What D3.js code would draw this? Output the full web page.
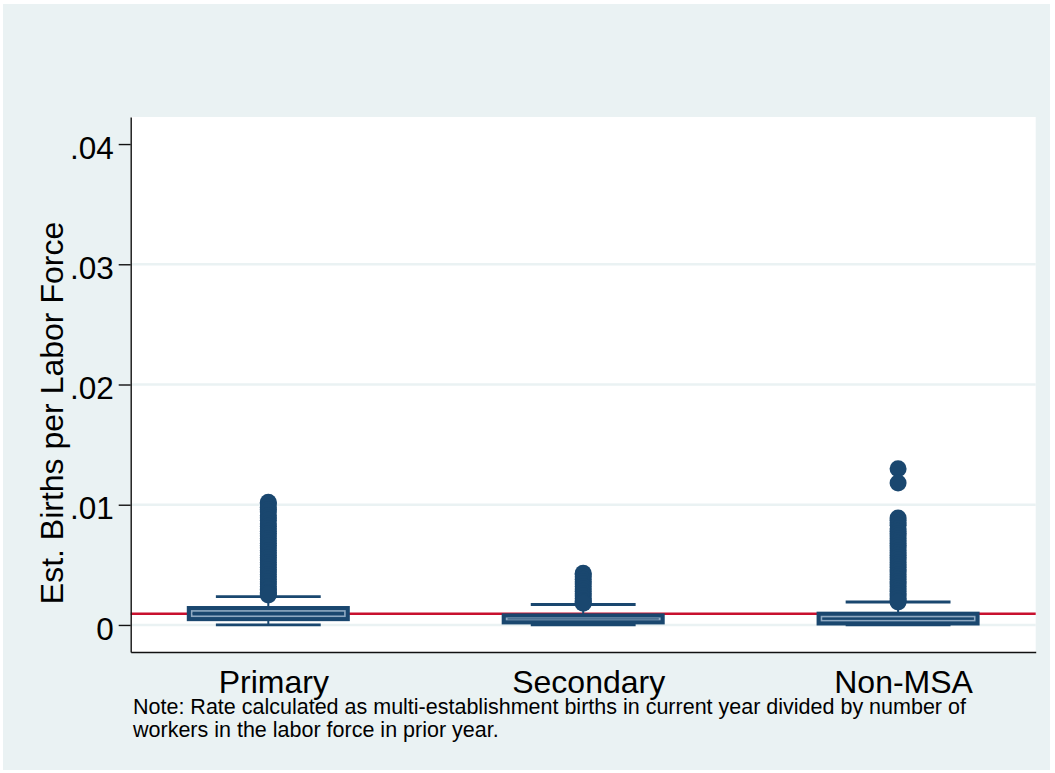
<!DOCTYPE html>
<html>
<head>
<meta charset="utf-8">
<script src="https://cdn.jsdelivr.net/npm/d3@7"></script>
<style>
  html, body { margin: 0; padding: 0; background: #ffffff; }
  svg { display: block; font-family: "Liberation Sans", Arial, Helvetica, sans-serif; }
</style>
</head>
<body>
<svg id="chart" width="1055" height="773"></svg>
<script>
// Area types and box-plot summary statistics (births per labor force)
const categories = ["Primary", "Secondary", "Non-MSA"];
const whiskerLow  = [0.00000, 0.00000, 0.00000];
const quartile1   = [0.00039, 0.00012, 0.00003];
const medians     = [0.00095, 0.00050, 0.00050];
const quartile3   = [0.00150, 0.00089, 0.00103];
const whiskerHigh = [0.00236, 0.00170, 0.00191];

// Outside values for each area type
const outliersPrimary = [0.0102, 0.0101, 0.0098, 0.0096, 0.0094, 0.0091, 0.0089, 0.0087,
  0.0084, 0.0082, 0.0080, 0.0078, 0.0076, 0.0074, 0.0072, 0.0070, 0.0068, 0.0066, 0.0064,
  0.0062, 0.0060, 0.0058, 0.0056, 0.0054, 0.0052, 0.0050, 0.0048, 0.0046, 0.0044, 0.0042,
  0.0040, 0.0038, 0.0036, 0.0034, 0.0032, 0.0030, 0.0029, 0.0027, 0.0026, 0.0025];
const outliersSecondary = [0.0043, 0.0042, 0.0040, 0.0038, 0.0036, 0.0034, 0.0032, 0.0030,
  0.0028, 0.0026, 0.0024, 0.0022, 0.0020, 0.0019, 0.0018];
const outliersNonMSA = [0.0130, 0.0118, 0.0089, 0.0087, 0.0085, 0.0083, 0.0080, 0.0078,
  0.0076, 0.0074, 0.0072, 0.0070, 0.0068, 0.0066, 0.0064, 0.0062, 0.0060, 0.0058, 0.0056,
  0.0054, 0.0052, 0.0050, 0.0048, 0.0046, 0.0044, 0.0042, 0.0040, 0.0038, 0.0036, 0.0034,
  0.0032, 0.0030, 0.0028, 0.0026, 0.0024, 0.0022, 0.0020, 0.0019];
const outliers = [outliersPrimary, outliersSecondary, outliersNonMSA];

// Overall reference rate
const referenceRate = 0.00093;

const yTicks = [0, 0.01, 0.02, 0.03, 0.04];
const gridTicks = [0, 0.01, 0.02, 0.03];
const yDomain = [-0.00225, 0.04225];

const yTitle = "Est. Births per Labor Force";
const noteLines = [
  "Note: Rate calculated as multi-establishment births in current year divided by number of",
  "workers in the labor force in prior year."
];

// Layout
const W = 1055, H = 773;
const plot = { left: 130.7, right: 1035.7, top: 117, bottom: 652 };
const navy = "#1a476f";
const boxLight = "#8fa9c2";
const bluishGray = "#eaf2f3";
const red = "#c8102e";

const svg = d3.select("#chart");

// Graph region
svg.append("rect").attr("x", 3).attr("y", 4).attr("width", 1047).attr("height", 766)
  .attr("fill", bluishGray);
// Plot region
svg.append("rect").attr("x", plot.left).attr("y", plot.top)
  .attr("width", plot.right - plot.left).attr("height", plot.bottom - plot.top)
  .attr("fill", "#ffffff");

const x = d3.scalePoint().domain(categories).range([plot.left, plot.right]).padding(0.437);
const y = d3.scaleLinear().domain(yDomain).range([plot.bottom, plot.top]);
const step = x.step();
const boxW = step * 0.512;
const capW = step * 0.333;

// Horizontal grid lines
svg.append("g").selectAll("line").data(gridTicks).join("line")
  .attr("x1", plot.left).attr("x2", plot.right)
  .attr("y1", d => y(d)).attr("y2", d => y(d))
  .attr("stroke", bluishGray).attr("stroke-width", 2.5);

// Reference line
svg.append("line")
  .attr("x1", plot.left).attr("x2", plot.right)
  .attr("y1", y(referenceRate)).attr("y2", y(referenceRate))
  .attr("stroke", red).attr("stroke-width", 2.6);

// Boxes
const stats = categories.map((c, i) => ({
  cat: c, lo: whiskerLow[i], q1: quartile1[i], med: medians[i], q3: quartile3[i],
  hi: whiskerHigh[i], out: outliers[i]
}));

const g = svg.append("g");
stats.forEach(s => {
  const cx = x(s.cat);
  // whiskers
  g.append("line").attr("x1", cx).attr("x2", cx).attr("y1", y(s.q3)).attr("y2", y(s.hi))
    .attr("stroke", navy).attr("stroke-width", 2);
  g.append("line").attr("x1", cx).attr("x2", cx).attr("y1", y(s.q1)).attr("y2", y(s.lo))
    .attr("stroke", navy).attr("stroke-width", 2);
  // caps
  [s.hi, s.lo].forEach(v => {
    g.append("line").attr("x1", cx - capW / 2).attr("x2", cx + capW / 2)
      .attr("y1", y(v)).attr("y2", y(v))
      .attr("stroke", navy).attr("stroke-width", 2.8);
  });
  // box body
  const top = y(s.q3), bot = y(s.q1);
  g.append("rect").attr("x", cx - boxW / 2).attr("y", top)
    .attr("width", boxW).attr("height", bot - top)
    .attr("fill", navy).attr("stroke", navy).attr("stroke-width", 1.8);
  // inner outline
  const inset = 4;
  const ih = Math.max(0, bot - top - 2 * inset);
  g.append("rect").attr("x", cx - boxW / 2 + inset).attr("y", top + inset)
    .attr("width", boxW - 2 * inset).attr("height", ih)
    .attr("fill", "none").attr("stroke", boxLight).attr("stroke-width", 1.6);
  // median
  g.append("line").attr("x1", cx - boxW / 2 + inset + 1).attr("x2", cx + boxW / 2 - inset - 1)
    .attr("y1", y(s.med)).attr("y2", y(s.med))
    .attr("stroke", navy).attr("stroke-width", 1);
  // outside values
  g.selectAll(null).data(s.out).join("circle")
    .attr("cx", cx).attr("cy", d => y(d)).attr("r", 8.5)
    .attr("fill", navy);
});

// Y axis
const yAxis = d3.axisLeft(y).tickValues(yTicks)
  .tickFormat(d => d === 0 ? "0" : d3.format(".2f")(d).replace(/^0/, ""))
  .tickSize(12).tickSizeOuter(0).tickPadding(5);
const ya = svg.append("g").attr("transform", `translate(${plot.left},0)`).call(yAxis);
ya.select(".domain").attr("stroke", "#111").attr("stroke-width", 1.4);
ya.selectAll(".tick line").attr("stroke", "#111").attr("stroke-width", 1.4);
ya.selectAll(".tick text").attr("font-size", 31.5).attr("fill", "#000")
  .attr("font-family", "Liberation Sans, Arial, sans-serif").attr("dy", "0.45em");

// X axis
const xAxis = d3.axisBottom(x).tickSize(0).tickSizeOuter(0).tickPadding(18);
const xa = svg.append("g").attr("transform", `translate(0,${plot.bottom})`).call(xAxis);
xa.select(".domain").attr("stroke", "#111").attr("stroke-width", 1.4);
xa.selectAll(".tick text").attr("font-size", 32).attr("fill", "#000")
  .attr("font-family", "Liberation Sans, Arial, sans-serif")
  .attr("dx", 5);

// Y axis title
svg.append("text")
  .attr("transform", "translate(63,413) rotate(-90)")
  .attr("text-anchor", "middle")
  .attr("font-size", 32).attr("fill", "#000")
  .text(yTitle);

// Note
svg.append("g").selectAll("text").data(noteLines).join("text")
  .attr("x", 133).attr("y", (d, i) => 714 + i * 23)
  .attr("font-size", 21.5).attr("fill", "#000")
  .text(d => d);
</script>
</body>
</html>
